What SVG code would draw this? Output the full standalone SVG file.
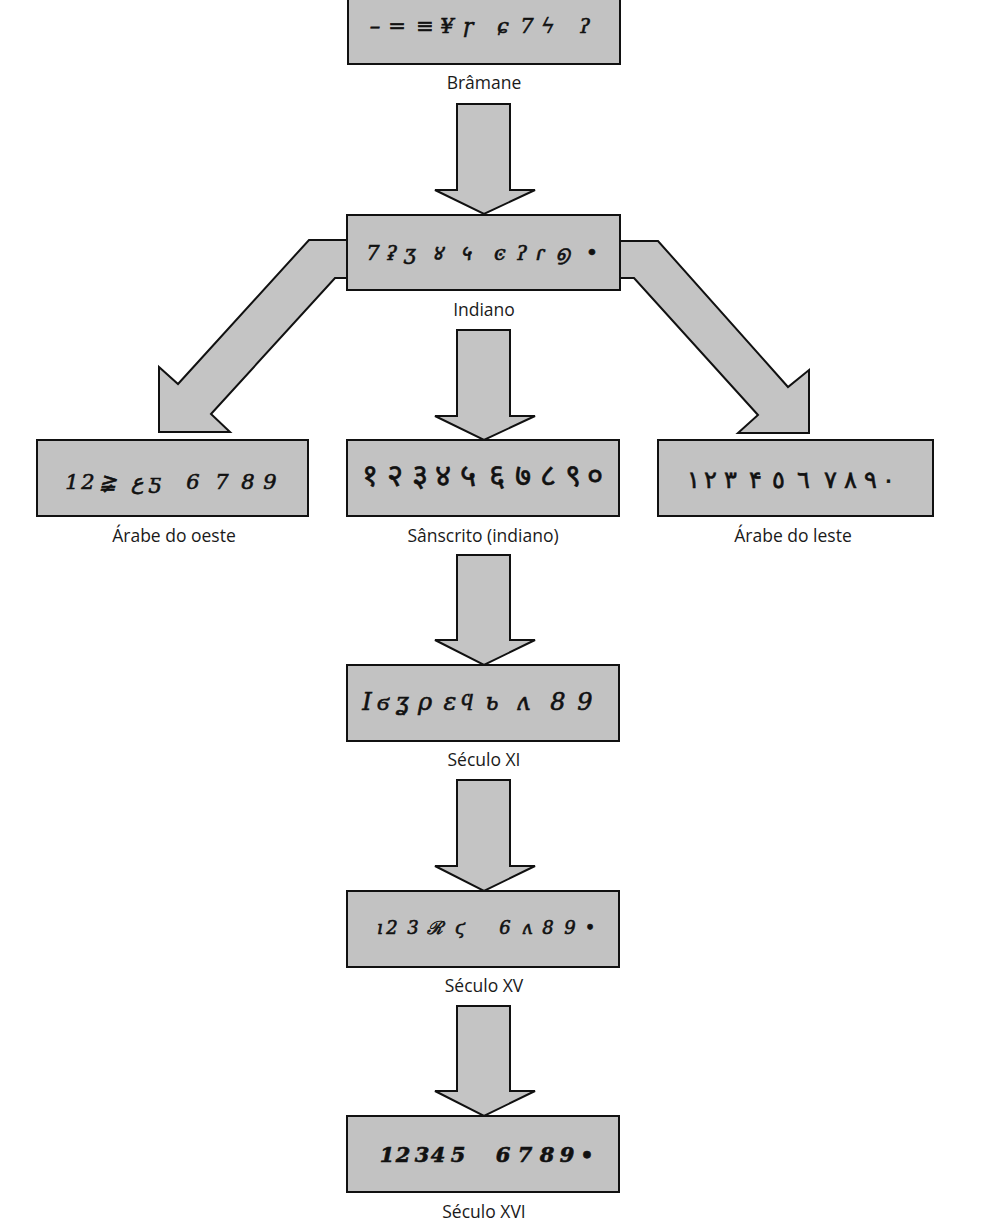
<svg xmlns="http://www.w3.org/2000/svg" width="984" height="1222" viewBox="0 0 984 1222">
<style>
.box{fill:#c2c2c2;stroke:#111;stroke-width:2}
.arr{fill:#c4c4c4;stroke:#111;stroke-width:2;stroke-linejoin:miter}
.lbl{font-family:"Open Sans","Liberation Sans",sans-serif;font-size:17.5px;fill:#1a1a1a;text-anchor:middle}
.num{font-family:"DejaVu Serif","Liberation Serif",serif;font-size:21px;fill:#111;stroke:#111;stroke-width:0.6;font-style:italic;text-anchor:middle}
</style>
<rect width="984" height="1222" fill="#fff"/>
<g id="connectors">
<polygon class="arr" points="350,240 309,240 178,384 159,367 159,432 230,432 211,414 335,278 350,278"/>
<polygon class="arr" points="617,241 658,241 788,387 809,370 809,433 738,433 758,415 634,278 617,278"/>
<polygon class="arr" points="457,104 510,104 510,190 535,190 484,214 435,190 457,190"/>
<polygon class="arr" points="457,330 510,330 510,416 535,416 484,440 435,416 457,416"/>
<polygon class="arr" points="457,555 510,555 510,640 535,640 484,665 435,640 457,640"/>
<polygon class="arr" points="457,780 510,780 510,866 535,866 484,891 435,866 457,866"/>
<polygon class="arr" points="457,1006 510,1006 510,1091 535,1091 484,1116 435,1091 457,1091"/>
</g>
<g id="bramane">
<rect class="box" x="348" y="-3" width="272" height="67"/>
<text class="num" x="375 397 425 447 468 503 527 548 585" y="33">–=≡¥ɼɕ7ϟʔ</text>
<text class="lbl" x="484" y="89">Brâmane</text>
</g>
<g id="indiano">
<rect class="box" x="347" y="215" width="273" height="75"/>
<text class="num" x="373 392 410 437 465 500 522 540 562 592" y="260">7ʡʒ४५ͼʔɾ൭•</text>
<text class="lbl" x="484" y="316">Indiano</text>
</g>
<g id="arabe-oeste">
<rect class="box" x="37" y="440" width="271" height="76"/>
<text class="num" x="72 88 108 137 155 193 222 248 270" y="489">12≩عƽ6789</text>
<text class="lbl" x="174" y="542">Árabe do oeste</text>
</g>
<g id="sanscrito">
<rect class="box" x="347" y="440" width="272" height="76"/>
<text class="num" x="370 395 420 443 468 497 523 548 573 595" y="486" style="font-size:31px;font-style:normal">१२३४५६७८९०</text>
<text class="lbl" x="483" y="542">Sânscrito (indiano)</text>
</g>
<g id="arabe-leste">
<rect class="box" x="658" y="440" width="275" height="76"/>
<text class="num" x="693 710 730 755 778 803 830 850 870 888" y="488" style="font-style:normal;font-size:24px">١٢٣۴٥٦٧٨٩٠</text>
<text class="lbl" x="793" y="542">Árabe do leste</text>
</g>
<g id="seculo-xi">
<rect class="box" x="347" y="665" width="272" height="76"/>
<text class="num" x="367 383 402 425 450 467 492 523 558 585" y="710" style="font-size:24px">Iϭʓρɛϥьʌ89</text>
<text class="lbl" x="484" y="766">Século XI</text>
</g>
<g id="seculo-xv">
<rect class="box" x="347" y="891" width="272" height="76"/>
<text class="num" x="380 392 413 435 460 505 527 548 570 590" y="934" style="font-size:18px">ı23ℛϛ6ʌ89•</text>
<text class="lbl" x="484" y="992">Século XV</text>
</g>
<g id="seculo-xvi">
<rect class="box" x="347" y="1116" width="272" height="76"/>
<text class="num" x="387 403 422 438 458 503 525 547 567 587" y="1162" style="font-weight:bold;font-size:21px">123456789•</text>
<text class="lbl" x="484" y="1218">Século XVI</text>
</g>
</svg>
